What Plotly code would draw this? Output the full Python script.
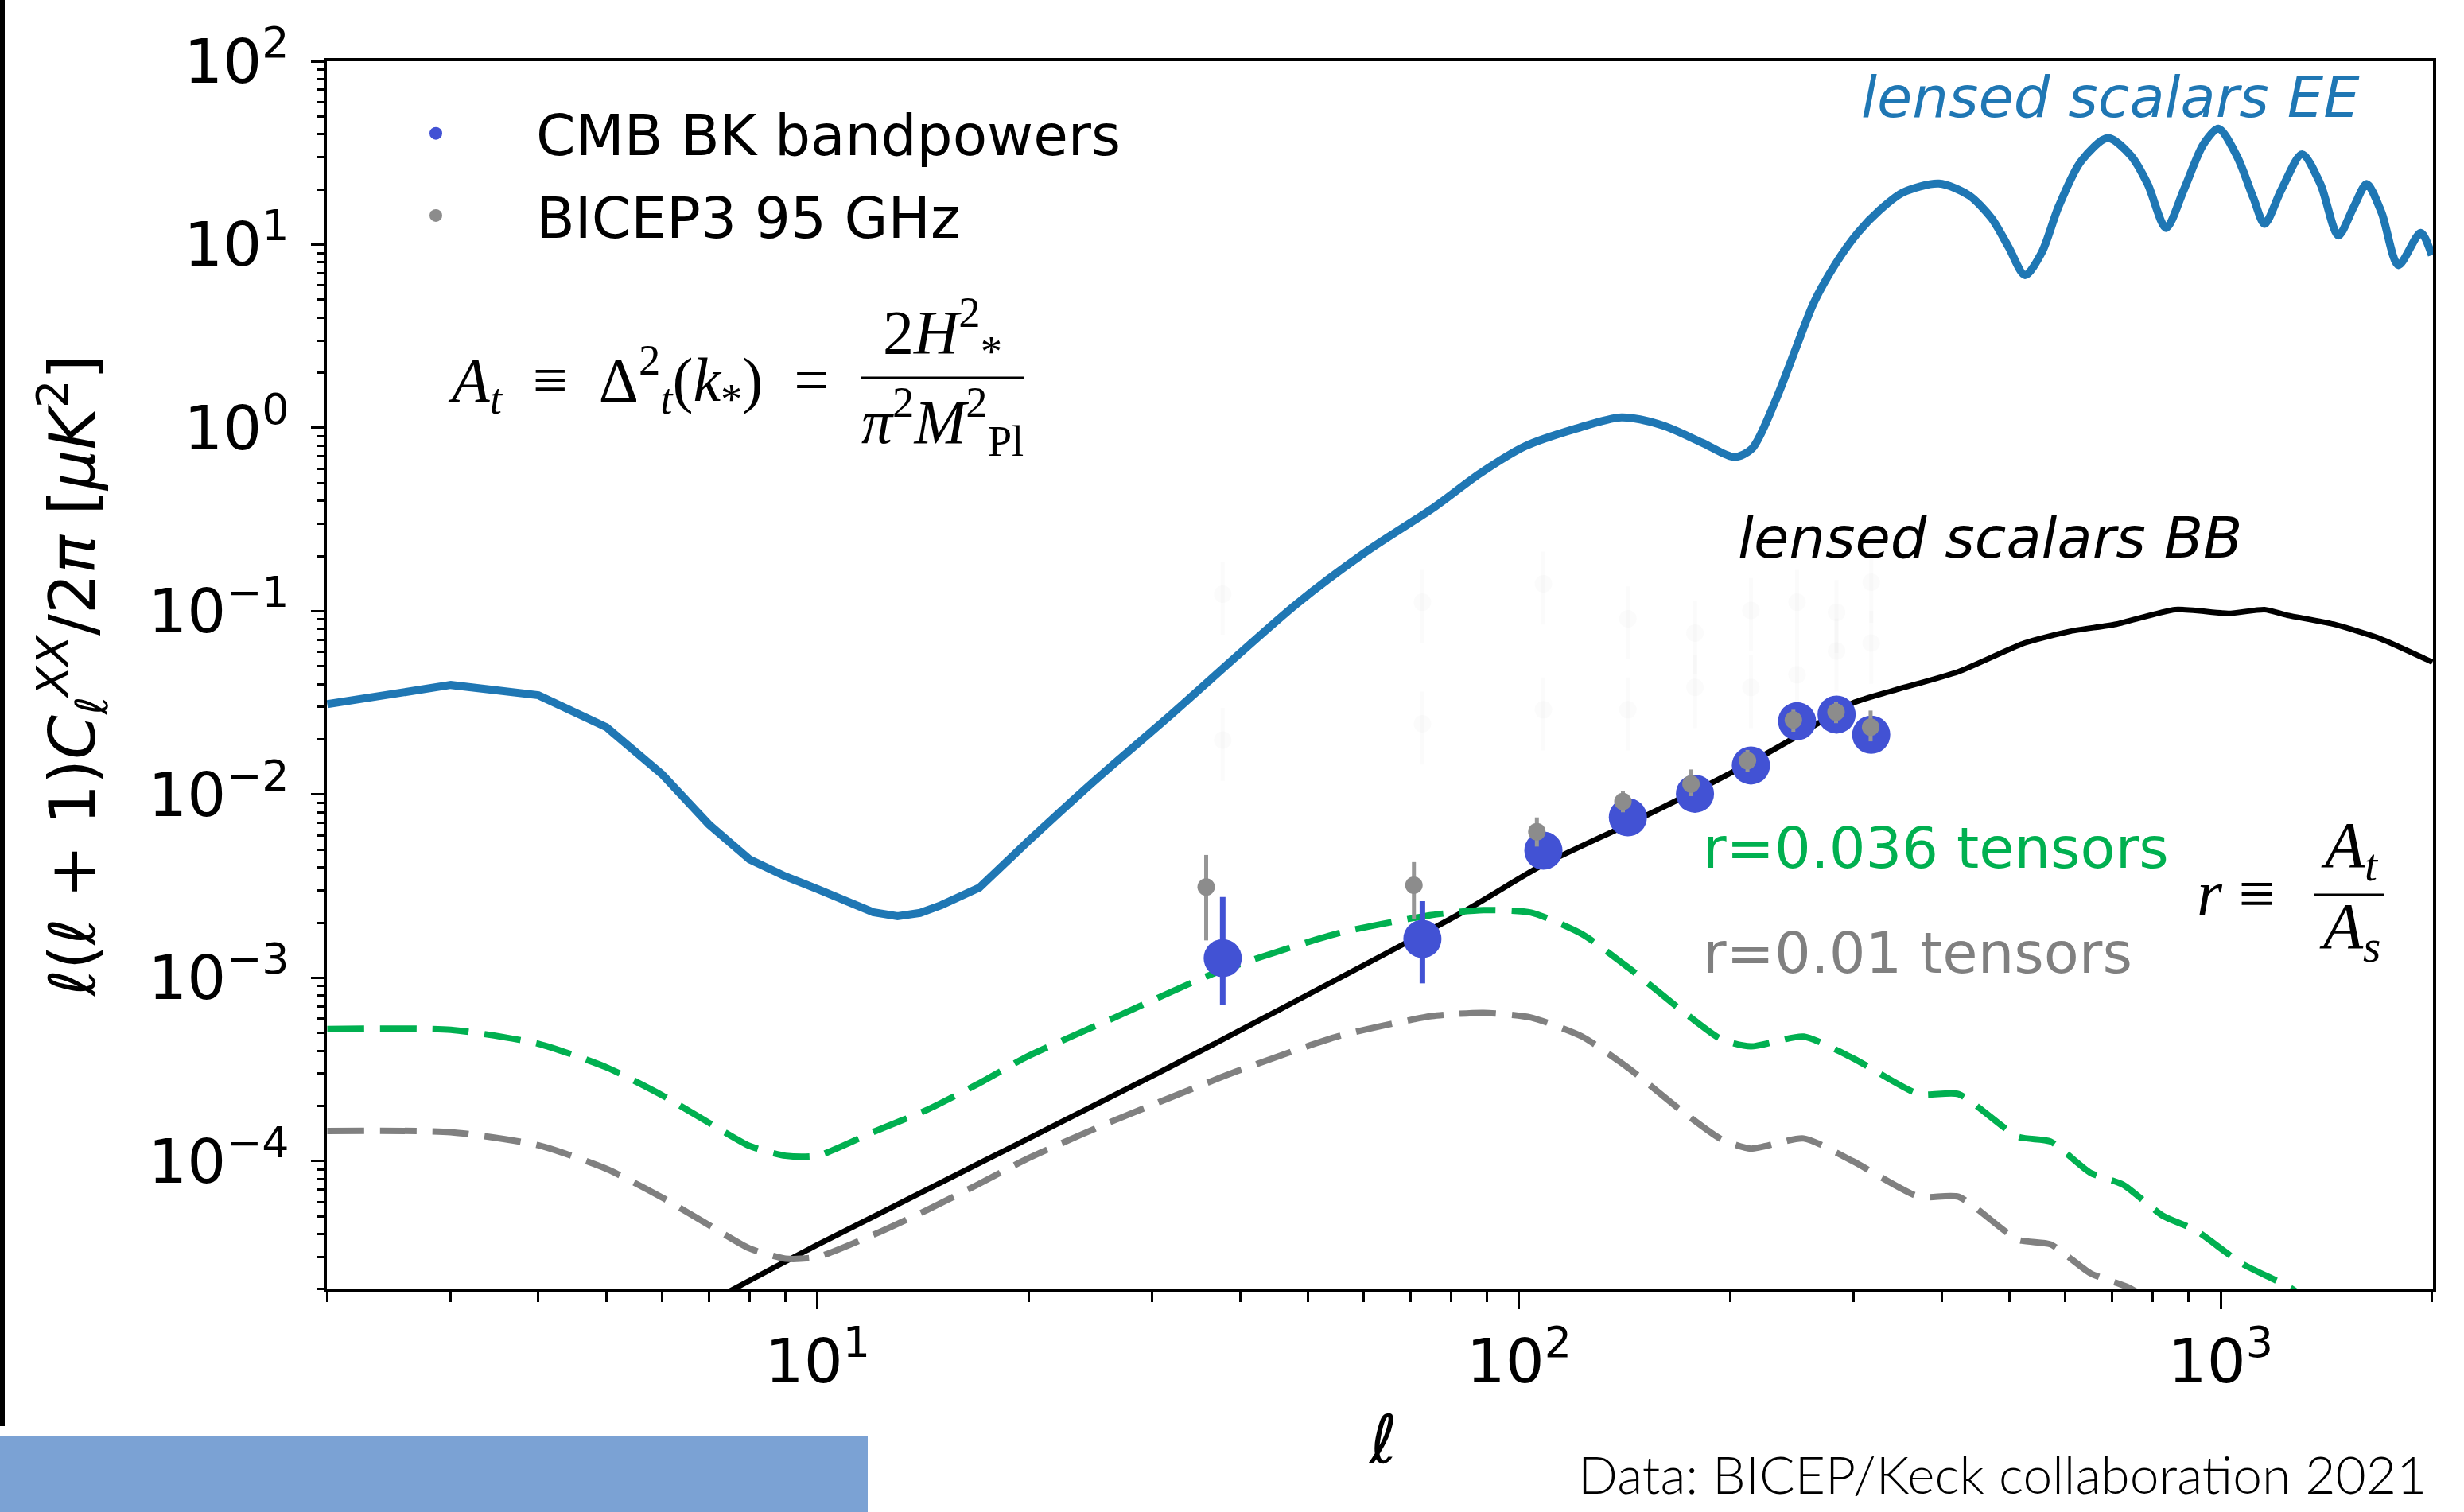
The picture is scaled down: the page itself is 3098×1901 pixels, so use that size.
import plotly.graph_objects as go

# ---------------- data ----------------
ell_ee = [2, 3, 4, 5, 6, 7, 8, 9, 10, 11, 12, 13, 14, 15, 17, 20, 23.6, 26.4, 31.6, 48.1, 60.3,
          75.5, 88, 102, 120, 139.9, 160.4, 182.4, 202.8, 214.8, 231.2, 248.7, 262.7, 282.6, 304,
          327.2, 352, 396.7, 438.2, 471.6, 498.3, 526.3, 556.1, 587.5, 632.1, 690.3, 745.2, 787,
          835.9, 886.3, 944.9, 992.7, 1054.4, 1113.9, 1155.1, 1220.6, 1306.2, 1387.6, 1471.2,
          1548.4, 1614.9, 1696.4, 1792, 1928.5, 2000]
cl_ee = [0.0311, 0.0396, 0.0348, 0.0233, 0.0129, 0.00687, 0.00443, 0.00357, 0.00305, 0.00265,
         0.00228, 0.00217, 0.00226, 0.00249, 0.0031, 0.0056, 0.0100, 0.0146, 0.0264, 0.109, 0.209,
         0.367, 0.565, 0.794, 0.986, 1.14, 1.03, 0.83, 0.693, 0.771, 1.365, 2.79, 4.76, 7.86, 11.6,
         15.5, 19.2, 21.5, 18.5, 13.9, 9.73, 6.81, 9.07, 16.1, 28.4, 38.1, 30.5, 21.4,
         12.3, 19.9, 35.2, 42.9, 30.5, 17.9, 12.96, 19.9, 31.1, 21.4, 11.2,
         16.1, 21.4, 14.9, 7.72, 11.6, 8.74]

ell_bb = [7, 10, 30.3, 82.4, 108.3, 142.9, 178.1, 214, 249, 299.3, 340.5, 423, 525, 611, 710,
          862, 1026, 1155, 1245, 1448, 1686, 2004]
cl_bb = [1.7e-5, 3.5e-5, 2.97e-4, 2.24e-3, 4.15e-3, 6.87e-3, 0.0104, 0.0150, 0.0208, 0.0316,
         0.0368, 0.0468, 0.067, 0.0778, 0.085, 0.102, 0.0973, 0.102, 0.095, 0.085, 0.071, 0.0527]

ell_t036 = [2, 3, 4, 5, 6, 7, 8, 9, 10, 12.1, 14.3, 16.9, 19.9, 23.6, 26.4, 37, 55.2, 75, 89, 104,
            123, 143, 170.5, 194, 214, 254.5, 299, 371.5, 423, 514, 572, 652, 726, 827, 920,
            1071, 1259, 1400]
cl_t036 = [5.26e-4, 5.21e-4, 4.37e-4, 3.25e-4, 2.29e-4, 1.62e-4, 1.21e-4, 1.07e-4, 1.07e-4,
           1.46e-4, 1.9e-4, 2.63e-4, 3.72e-4, 5.0e-4, 6.03e-4, 1.07e-3, 1.75e-3, 2.2e-3, 2.34e-3,
           2.27e-3, 1.73e-3, 1.14e-3, 6.64e-4, 4.63e-4, 4.23e-4, 4.78e-4, 3.65e-4, 2.32e-4,
           2.32e-4, 1.36e-4, 1.28e-4, 8.65e-5, 7.44e-5, 5.04e-5, 4.21e-5, 2.77e-5, 2.03e-5, 1.5e-5]

ell_t010 = [2, 3, 4, 5, 6, 7, 8, 9, 10, 12.1, 14.3, 16.9, 19.9, 23.6, 26.4, 39.4, 55.2, 75, 89,
            104, 123, 143, 170.5, 194, 214, 254.5, 299, 371.5, 423, 514, 572, 652, 741, 800]
cl_t010 = [1.46e-4, 1.44e-4, 1.22e-4, 9.08e-5, 6.34e-5, 4.48e-5, 3.34e-5, 2.94e-5, 3.0e-5,
           4.02e-5, 5.4e-5, 7.44e-5, 1.03e-4, 1.38e-4, 1.66e-4, 3.07e-4, 4.8e-4, 6.18e-4, 6.44e-4,
           6.07e-4, 4.78e-4, 3.23e-4, 1.88e-4, 1.32e-4, 1.17e-4, 1.33e-4, 1.0e-4, 6.4e-5, 6.4e-5,
           3.73e-5, 3.52e-5, 2.45e-5, 2.04e-5, 1.7e-5]

ell_bk = [37.8, 72.8, 108.3, 142.9, 178.1, 214, 249, 283.5, 317.6]
dl_bk = [1.28e-3, 1.63e-3, 4.94e-3, 7.52e-3, 0.0101, 0.0144, 0.0251, 0.0273, 0.0212]
bk_hi = [2.76e-3, 2.62e-3, 5.5e-3, 8.3e-3, 0.0111, 0.0157, 0.0272, 0.0296, 0.0232]
bk_lo = [7.08e-4, 9.33e-4, 4.4e-3, 6.8e-3, 0.0092, 0.0131, 0.0231, 0.0251, 0.0193]

ell_b3 = [35.8, 70.8, 106, 140.6, 175.8, 211.6, 246, 283, 317]
dl_b3 = [3.13e-3, 3.2e-3, 6.27e-3, 9.16e-3, 0.0114, 0.0153, 0.0255, 0.0282, 0.0233]
b3_hi = [4.68e-3, 4.28e-3, 7.5e-3, 0.0105, 0.0137, 0.0175, 0.029, 0.032, 0.0287]
b3_lo = [1.6e-3, 2.09e-3, 5.2e-3, 8.0e-3, 0.0098, 0.0133, 0.022, 0.0245, 0.0195]

ell_ghost = [37.8, 72.8, 108.3, 142.9, 178.1, 214, 249, 283.5, 317.6]
dl_ghost_a = [0.124, 0.112, 0.141, 0.091, 0.076, 0.101, 0.112, 0.0986, 0.144]
dl_ghost_b = [0.0198, 0.0243, 0.029, 0.029, 0.0384, 0.0384, 0.045, 0.0607, 0.067]

y_tickvals = [1e-4, 1e-3, 1e-2, 1e-1, 1e0, 1e1, 1e2]
y_ticktext = ["10<sup>−4</sup>", "10<sup>−3</sup>", "10<sup>−2</sup>", "10<sup>−1</sup>",
              "10<sup>0</sup>", "10<sup>1</sup>", "10<sup>2</sup>"]
x_tickvals = [10, 100, 1000]
x_ticktext = ["10<sup>1</sup>", "10<sup>2</sup>", "10<sup>3</sup>"]

# ---------------- layout geometry ----------------
W, H = 3098, 1901
L, R, T, B = 411, 3059, 77, 1621


def px(x):
    return (x - L) / (R - L)


def py(y):
    return (B - y) / (B - T)


EE_C = "#1f77b4"
BK_C = "#4252d4"
GREEN = "#00b050"
GRAY = "#808080"
FONT = "DejaVu Sans"
SERIF = "Liberation Serif"
NB = "\u00a0"

fig = go.Figure()

n_lin = ell_ee.index(20) + 1
fig.add_trace(go.Scatter(x=ell_ee[:n_lin], y=cl_ee[:n_lin], mode="lines",
                         line=dict(color=EE_C, width=10), showlegend=False))
fig.add_trace(go.Scatter(x=ell_ee[n_lin - 1:], y=cl_ee[n_lin - 1:], mode="lines",
                         line=dict(color=EE_C, width=10, shape="spline", smoothing=0.8),
                         showlegend=False))
fig.add_trace(go.Scatter(x=ell_bb, y=cl_bb, mode="lines",
                         line=dict(color="black", width=7, shape="spline", smoothing=0.6),
                         showlegend=False))
fig.add_trace(go.Scatter(x=ell_t036, y=cl_t036, mode="lines",
                         line=dict(color=GREEN, width=8, dash="46px,20px", shape="spline",
                                   smoothing=0.6), showlegend=False))
fig.add_trace(go.Scatter(x=ell_t010, y=cl_t010, mode="lines",
                         line=dict(color=GRAY, width=8, dash="46px,20px", shape="spline",
                                   smoothing=0.6), showlegend=False))

for gy in (dl_ghost_a, dl_ghost_b):
    fig.add_trace(go.Scatter(
        x=ell_ghost, y=gy, mode="markers",
        marker=dict(color="rgba(150,150,150,0.035)", size=22),
        error_y=dict(type="data", symmetric=False,
                     array=[v * 0.5 for v in gy], arrayminus=[v * 0.4 for v in gy],
                     color="rgba(150,150,150,0.035)", thickness=5, width=0),
        showlegend=False))

fig.add_trace(go.Scatter(
    x=ell_bk, y=dl_bk, mode="markers", name="CMB BK bandpowers", legendgroup="bk",
    marker=dict(color=BK_C, size=48),
    error_y=dict(type="data", symmetric=False,
                 array=[h - v for h, v in zip(bk_hi, dl_bk)],
                 arrayminus=[v - l for v, l in zip(dl_bk, bk_lo)],
                 color=BK_C, thickness=7, width=0)))
fig.add_trace(go.Scatter(
    x=ell_b3, y=dl_b3, mode="markers", name="BICEP3 95 GHz", legendgroup="b3",
    marker=dict(color="rgb(140,140,140)", size=22),
    error_y=dict(type="data", symmetric=False,
                 array=[h - v for h, v in zip(b3_hi, dl_b3)],
                 arrayminus=[v - l for v, l in zip(dl_b3, b3_lo)],
                 color="rgb(150,150,150)", thickness=5, width=0)))


def minor_vals(lo_exp, hi_exp, lo, hi):
    out = []
    for e in range(lo_exp, hi_exp + 1):
        for k in range(2, 10):
            v = k * 10.0 ** e
            if lo <= v <= hi:
                out.append(v)
    return out


axis_common = dict(showline=True, linecolor="black", linewidth=4, mirror=True,
                   showgrid=False, zeroline=False, ticks="outside", tickcolor="black",
                   tickwidth=3, tickfont=dict(family=FONT, size=77, color="black"))

fig.update_xaxes(type="log", range=[0.3005, 3.3027], tickmode="array", tickvals=x_tickvals,
                 ticktext=x_ticktext, ticklen=21,
                 minor=dict(tickmode="array", tickvals=minor_vals(0, 3, 2, 2000),
                            ticks="outside", ticklen=12, tickwidth=2.5, tickcolor="black",
                            showgrid=False),
                 **axis_common)
fig.update_yaxes(type="log", range=[-4.699, 2], tickmode="array", tickvals=y_tickvals,
                 ticktext=y_ticktext, ticklen=16, ticklabelstandoff=12,
                 minor=dict(tickmode="array", tickvals=minor_vals(-5, 1, 2e-5, 100),
                            ticks="outside", ticklen=9, tickwidth=2.5, tickcolor="black",
                            showgrid=False),
                 **axis_common)

ann = []


def text(x, y, s, size=72, color="black", xanchor="left", yanchor="middle", family=FONT,
         angle=0, weight=None):
    f = dict(family=family, size=size, color=color)
    if weight is not None:
        f["weight"] = weight
    ann.append(dict(x=px(x), y=py(y), xref="paper", yref="paper", text=s, showarrow=False,
                    xanchor=xanchor, yanchor=yanchor, textangle=angle, font=f))


text(2338, 122, "<i>lensed scalars EE</i>", color=EE_C)
text(2183, 676, "<i>lensed scalars BB</i>")
text(2139, 1066, "r=0.036 tensors", color=GREEN)
text(2139, 1198, "r=0.01 tensors", color=GRAY)
text(3053, 1852, "Data: BICEP/Keck collaboration 2021", size=66, xanchor="right",
     family="Lato", weight=300)
text(1738, 1810, "<i>ℓ</i>", size=84, xanchor="center")
text(90, 850, "<i>ℓ</i>(<i>ℓ</i> + 1)<i>C</i><sub><i>ℓ</i></sub><sup><i>XX</i></sup>/2<i>π</i>"
     " [<i>μK</i><sup>2</sup>]", size=80, xanchor="center", angle=-90)

# formulae
text(561, 477, "<i>A</i><sub><i>t</i></sub>" + NB * 2 + "≡" + NB * 2 + "Δ<sup>2</sup><sub><i>t</i></sub>"
     "(<i>k</i><sub>*</sub>)" + NB * 2 + "=", size=78, family=SERIF)
text(1185, 417, "2<i>H</i><sup>2</sup><sub>*</sub>", size=78, family=SERIF, xanchor="center")
text(1185, 530, "<i>π</i><sup>2</sup><i>M</i><sup>2</sup><sub>Pl</sub>", size=78, family=SERIF,
     xanchor="center")
text(2760, 1123, "<i>r</i>" + NB + "≡", size=82, family=SERIF)
text(2954, 1068, "<i>A</i><sub><i>t</i></sub>", size=82, family=SERIF, xanchor="center")
text(2954, 1170, "<i>A</i><sub><i>s</i></sub>", size=82, family=SERIF, xanchor="center")

shapes = [
    dict(type="rect", xref="paper", yref="paper", x0=px(0), x1=px(6), y0=py(1793), y1=py(0),
         fillcolor="black", line=dict(width=0), layer="above"),
    dict(type="rect", xref="paper", yref="paper", x0=px(0), x1=px(1091), y0=py(1901),
         y1=py(1805), fillcolor="#7ba2d4", line=dict(width=0), layer="above"),
    dict(type="line", xref="paper", yref="paper", x0=px(1082), x1=px(1288), y0=py(475),
         y1=py(475), line=dict(color="black", width=3)),
    dict(type="line", xref="paper", yref="paper", x0=px(2910), x1=px(2998), y0=py(1125),
         y1=py(1125), line=dict(color="black", width=3)),
]

fig.update_layout(
    width=W, height=H, autosize=False,
    margin=dict(l=L, r=W - R, t=T, b=H - B, pad=0),
    paper_bgcolor="white", plot_bgcolor="white",
    font=dict(family=FONT, color="black"),
    annotations=ann, shapes=shapes,
    legend=dict(x=px(422), y=py(115), xanchor="left", yanchor="top",
                font=dict(family=FONT, size=71, color="black"), bgcolor="rgba(0,0,0,0)",
                itemsizing="trace", itemwidth=242, tracegroupgap=8),
)

fig.write_html("out.html", config={"displayModeBar": False},
               post_script=["document.body.style.margin='0px';"])
